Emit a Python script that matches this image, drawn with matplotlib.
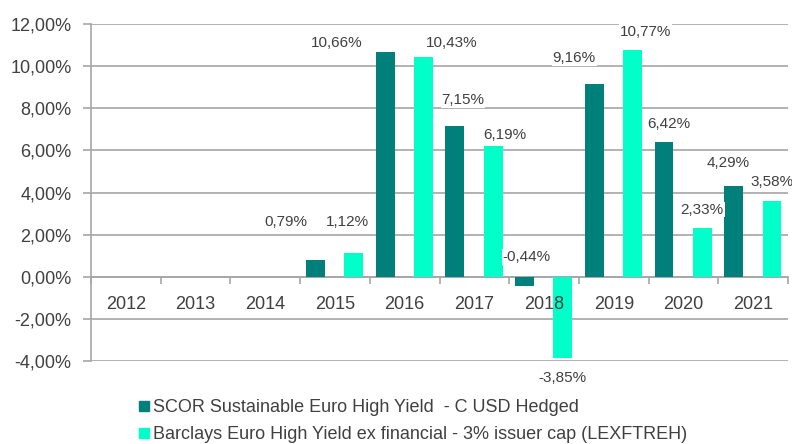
import numpy as np
import matplotlib.pyplot as plt
from matplotlib.ticker import FuncFormatter, FixedLocator
from matplotlib.lines import Line2D

plt.rcParams['font.family'] = ['Liberation Sans', 'DejaVu Sans']

years = ['2012', '2013', '2014', '2015', '2016', '2017', '2018', '2019', '2020', '2021']
scor = [np.nan, np.nan, np.nan, 0.79, 10.66, 7.15, -0.44, 9.16, 6.42, 4.29]
barclays = [np.nan, np.nan, np.nan, 1.12, 10.43, 6.19, -3.85, 10.77, 2.33, 3.58]
scor_name = 'SCOR Sustainable Euro High Yield  - C USD Hedged'
barclays_name = 'Barclays Euro High Yield ex financial - 3% issuer cap (LEXFTREH)'

# label offsets in pixels from the bar end (hand placed in the original)
scor_off = [None, None, None, (-30, 38), (-48, 9), (8, 26), (2, 29), (-20, 26), (5, 18), (-5, 23)]
barc_off = [None, None, None, (-6, 31), (28, 14), (12, 11), (0, -20), (13, 18), (0, 18), (0, 19)]

dark = '#007F7B'
light = '#00FFC9'
grey = '#A6A6A6'
txt = '#404040'

fig = plt.figure(figsize=(7.92, 4.44), dpi=100)
ax = fig.add_axes([91 / 792, 83 / 444, 697 / 792, 337 / 444])

x = np.arange(len(years))
w = 0.27
ax.bar(x - 0.28, scor, w, color=dark, zorder=3)
ax.bar(x + 0.27, barclays, w, color=light, zorder=3)

for xs, vals, offs in [(x - 0.28, scor, scor_off), (x + 0.27, barclays, barc_off)]:
    for xi, v, o in zip(xs, vals, offs):
        if o is None or np.isnan(v):
            continue
        ax.annotate(f'{v:.2f}%'.replace('.', ','), (xi, v), xytext=o,
                    textcoords='offset pixels', ha='center', va='center',
                    fontsize=11, color=txt, zorder=5,
                    bbox=dict(facecolor='white', edgecolor='none', pad=0.5))

ax.set_xlim(-0.5, len(years) - 0.5)
ax.set_ylim(-4, 12)
ax.set_yticks(np.arange(-4, 13, 2))
ax.yaxis.set_major_formatter(FuncFormatter(lambda v, p: f'{v:.2f}%'.replace('.', ',')))
ax.grid(axis='y', color=grey, linewidth=1.2, zorder=0)
ax.tick_params(axis='y', length=6, color=grey, width=1.2, labelsize=13, labelcolor=txt, pad=8)

ax.spines['bottom'].set_position(('data', 0))
for s in ['top', 'right']:
    ax.spines[s].set_visible(False)
for s in ['left', 'bottom']:
    ax.spines[s].set_color(grey)
    ax.spines[s].set_linewidth(1.2)

ax.xaxis.set_major_locator(FixedLocator(x))
ax.set_xticklabels(years)
ax.xaxis.set_minor_locator(FixedLocator(np.arange(len(years) + 1) - 0.5))
ax.tick_params(axis='x', which='major', length=0, labelsize=13, labelcolor=txt, pad=14)
ax.tick_params(axis='x', which='minor', length=5, color=grey, width=1.2)
ax.xaxis.set_zorder(4)  # year labels sit on top of the bars

handles = [Line2D([], [], marker='s', linestyle='none', markersize=7, color=dark),
           Line2D([], [], marker='s', linestyle='none', markersize=7, color=light)]
fig.legend(handles, [scor_name, barclays_name], loc='upper left',
           bbox_to_anchor=(128 / 792, 1 - 390 / 444), frameon=False,
           fontsize=13, labelcolor=txt, handletextpad=0.1, handlelength=0.8,
           labelspacing=0.55, borderpad=0)

fig.savefig('out.png', dpi=100)
